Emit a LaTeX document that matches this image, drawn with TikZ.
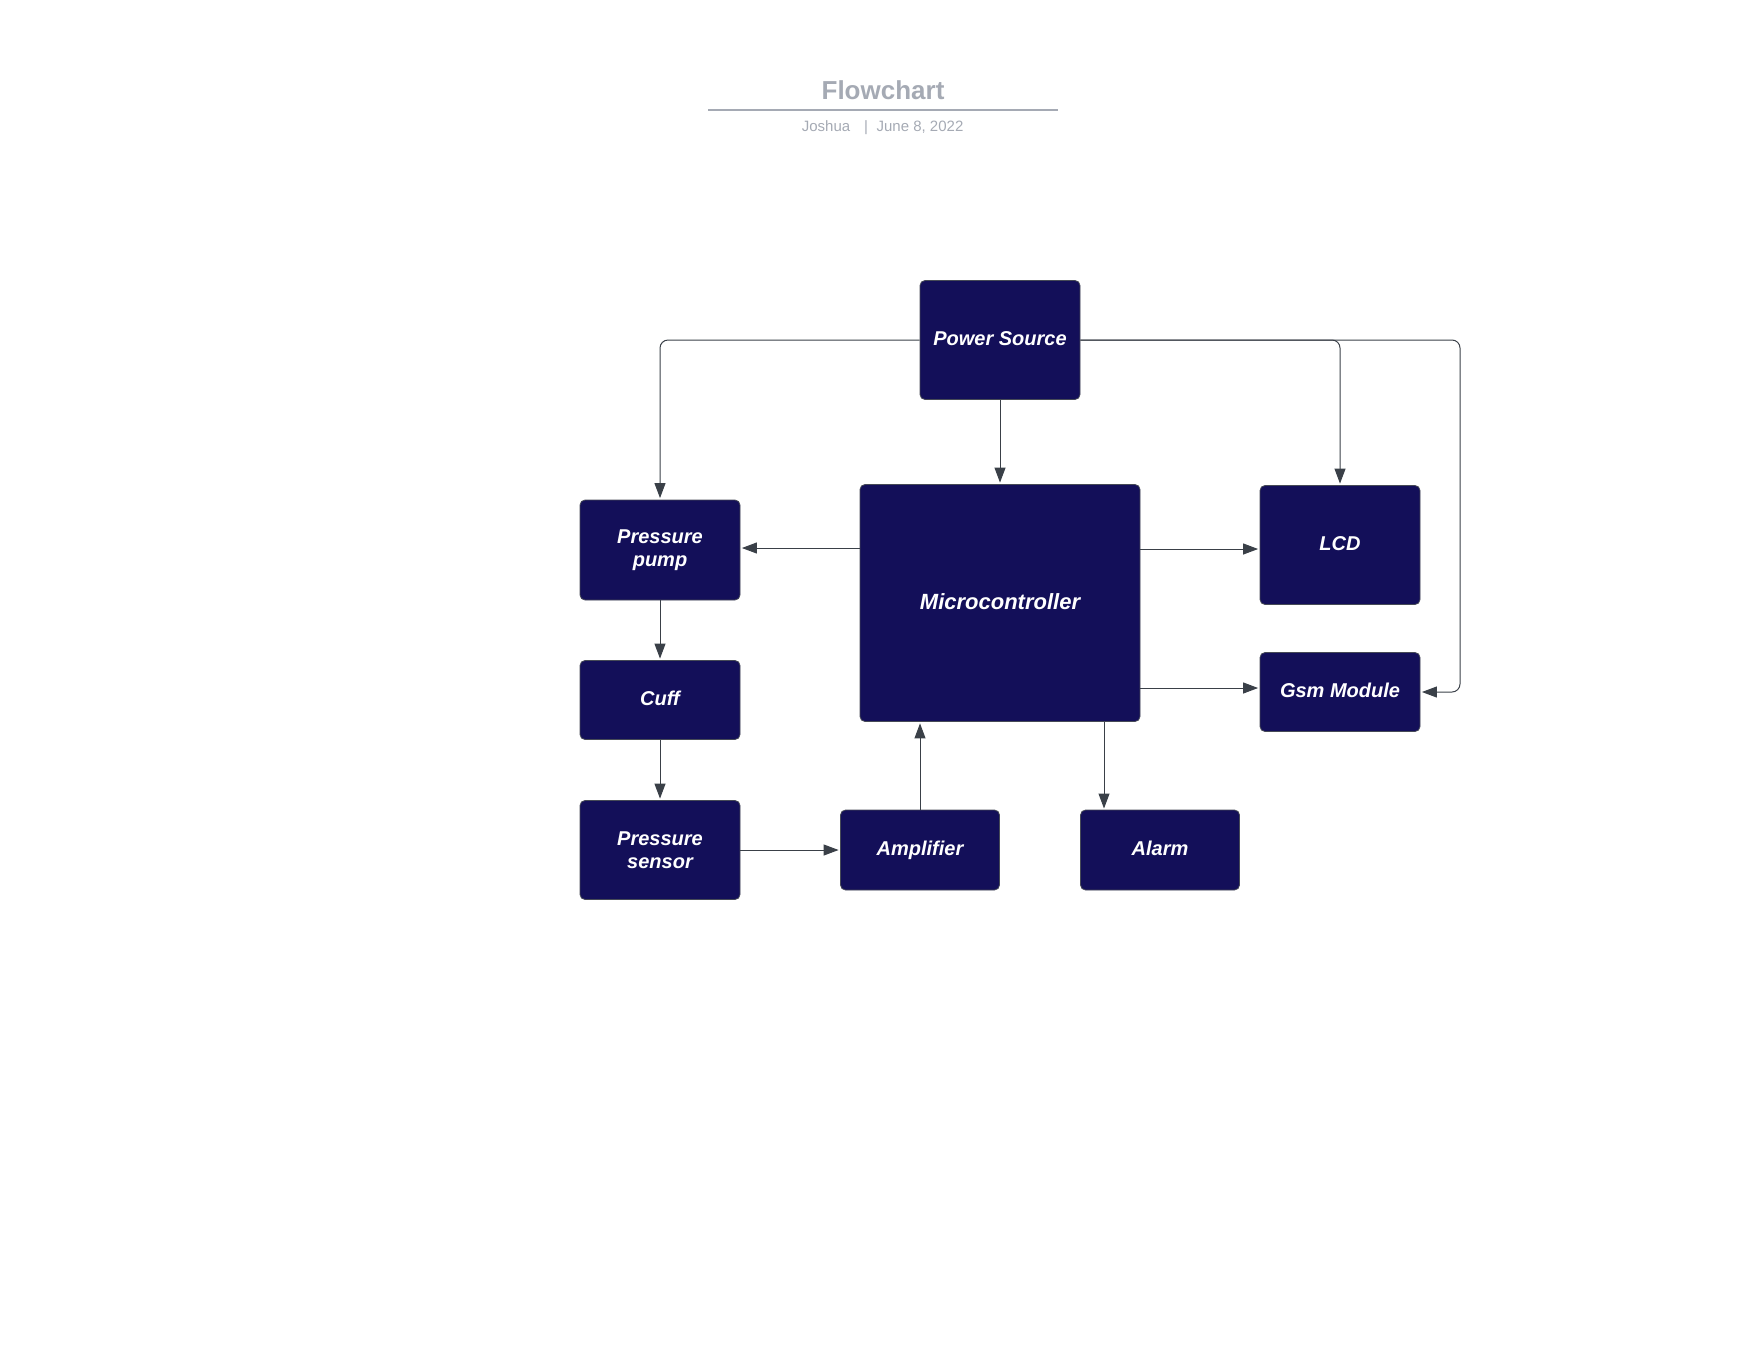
\documentclass[tikz,border=0pt]{standalone}
\usepackage{fontspec}
\setmainfont{Liberation Sans}
\usetikzlibrary{arrows.meta}
\definecolor{boxfill}{RGB}{19,15,89}
\definecolor{boxline}{RGB}{70,74,86}
\definecolor{wire}{RGB}{58,64,72}
\definecolor{titlegray}{RGB}{165,170,180}
\begin{document}
\begin{tikzpicture}[x=1pt,y=-1pt,
  block/.style={draw=boxline,line width=0.8pt,fill=boxfill,rounded corners=5pt,
    text=white,font=\fontsize{20}{23}\selectfont\bfseries\itshape,
    align=center,inner sep=0pt,minimum width=160pt,minimum height=#1},
  block/.default=80pt,
  oneline/.style={text height=15pt,text depth=5pt},
  meta/.style={text=titlegray,font=\fontsize{15}{18}\selectfont,anchor=base},
  conn/.style={draw=wire,line width=1pt,rounded corners=8pt,shorten >=1.5pt,
    -{Triangle[length=15pt,width=11pt]}}]
\useasboundingbox (0,0) rectangle (1760,1360);

% header
\node[text=titlegray,font=\fontsize{26}{30}\selectfont\bfseries,anchor=base] (title) at (883,99) {Flowchart};
\draw[titlegray,line width=1.6pt] (708,110) -- (1058,110);
\node[meta] (author) at (826,131) {Joshua};
\node[meta] (sep) at (866,131) {|};
\node[meta] (date) at (920,131) {June 8, 2022};

% blocks
\node[block=119pt,oneline] (pwr) at (1000,340) {Power Source};
\node[block=237pt,minimum width=280pt,text height=16pt,text depth=4pt,
  font=\fontsize{22}{26}\selectfont\bfseries\itshape] (mcu) at (1000,603) {Microcontroller};
\node[block=100pt] (pump) at (660,550) {Pressure\\pump};
\node[block=79pt,oneline] (cuff) at (660,700) {Cuff};
\node[block=99pt] (sens) at (660,850) {Pressure\\sensor};
\node[block=80pt,minimum width=159pt,oneline] (amp) at (920,850) {Amplifier};
\node[block=80pt,minimum width=159pt,oneline] (alarm) at (1160,850) {Alarm};
\node[block=119pt,oneline] (lcd) at (1340,545) {LCD};
\node[block=79pt,oneline] (gsm) at (1340,692) {Gsm Module};

% routing points
\coordinate (gsmturn) at (1460,340);
\coordinate (alarmin) at (1104,810);

% connectors
\draw[conn] (pwr.west) -| (pump.north);
\draw[conn] (pwr.south) -- (mcu.north);
\draw[conn] (pwr.east) -| (lcd.north);
\draw[conn] (pwr.east) -- (gsmturn) |- (gsm.east);
\draw[conn] ([yshift=2pt]mcu.west |- pump.east) -- ([yshift=2pt]pump.east);
\draw[conn] ([yshift=-4pt]mcu.east |- lcd.west) -- ([yshift=-4pt]lcd.west);
\draw[conn] ([yshift=4pt]mcu.east |- gsm.west) -- ([yshift=4pt]gsm.west);
\draw[conn] (mcu.south -| alarmin) -- (alarmin);
\draw[conn] (amp.north) -- (amp.north |- mcu.south);
\draw[conn] (pump.south) -- (cuff.north);
\draw[conn] (cuff.south) -- (sens.north);
\draw[conn] (sens.east) -- (amp.west);
\end{tikzpicture}
\end{document}
